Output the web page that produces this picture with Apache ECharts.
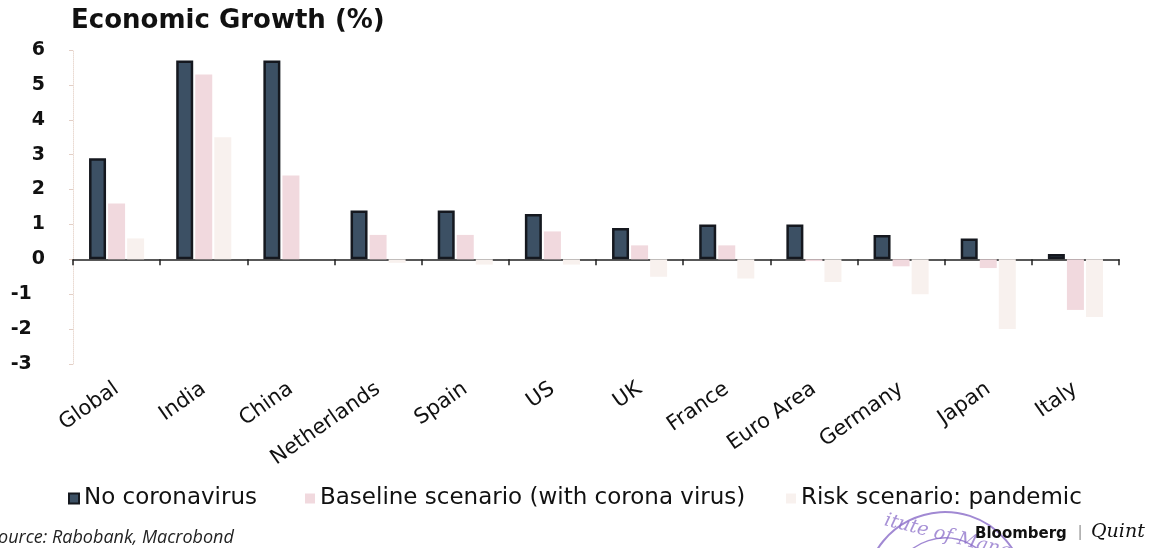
<!DOCTYPE html>
<html>
<head>
<meta charset="utf-8">
<script src="https://cdn.jsdelivr.net/npm/echarts@6/dist/echarts.min.js"></script>
<style>
  html, body { margin: 0; padding: 0; background: #ffffff; }
  #chart { width: 1153px; height: 548px; }
</style>
</head>
<body>
<div id="chart"></div>
<script>
// Economic growth forecasts (%) by economy, three scenarios
const categories = ['Global', 'India', 'China', 'Netherlands', 'Spain', 'US', 'UK', 'France', 'Euro Area', 'Germany', 'Japan', 'Italy'];
const noCorona   = [2.9, 5.7, 5.7, 1.4, 1.4, 1.3, 0.9, 1.0, 1.0, 0.7, 0.6, 0.15];
const baseline   = [1.6, 5.3, 2.4, 0.7, 0.7, 0.8, 0.4, 0.4, -0.05, -0.2, -0.25, -1.45];
const pandemic   = [0.6, 3.5, 0.0, -0.1, -0.15, -0.15, -0.5, -0.55, -0.65, -1.0, -2.0, -1.65];
const seriesNames = ['No coronavirus', 'Baseline scenario (with corona virus)', 'Risk scenario: pandemic'];
const yTicks = { min: -3, max: 6, interval: 1 };

const chart = echarts.init(document.getElementById('chart'));
const wide = '"DejaVu Sans", "Open Sans", sans-serif';

// one legend entry per block so each sits at its own spot
const legendAt = (name, left) => ({
  left: left, top: 482,
  itemWidth: 10, itemHeight: 10, itemGap: 0,
  textStyle: { fontFamily: wide, fontSize: 23, color: '#111' },
  data: [{ name: name, icon: 'rect' }]
});

chart.setOption({
  backgroundColor: '#ffffff',
  animation: false,
  title: {
    text: 'Economic Growth (%)',
    left: 66, top: 3,
    textStyle: { fontFamily: wide, fontSize: 26, fontWeight: 'bold', color: '#111' }
  },
  legend: [
    legendAt(seriesNames[0], 63),
    legendAt(seriesNames[1], 300),
    legendAt(seriesNames[2], 781)
  ],
  grid: { left: 73, right: 34, top: 50, bottom: 184 },
  xAxis: [
    {
      // category labels along the bottom edge of the plot
      type: 'category', data: categories, position: 'bottom',
      axisLine: { show: false, onZero: false }, axisTick: { show: false },
      axisLabel: {
        interval: 0, rotate: 35, margin: 23,
        fontFamily: wide, fontSize: 21, color: '#111'
      }
    },
    {
      // baseline with category separators at zero
      type: 'category', data: categories, position: 'bottom',
      axisLine: { show: true, onZero: true, lineStyle: { color: '#222', width: 1.5 } },
      axisTick: { show: true, length: 6, lineStyle: { color: '#222', width: 1.5 } },
      axisLabel: { show: false }
    }
  ],
  yAxis: {
    type: 'value', min: yTicks.min, max: yTicks.max, interval: yTicks.interval,
    axisLine: { show: true, lineStyle: { color: '#eadbd3', width: 1, type: 'dotted' } },
    axisTick: { show: true, length: 4, lineStyle: { color: '#e3cfc6' } },
    splitLine: { show: false },
    axisLabel: {
      margin: 28, fontFamily: wide, fontSize: 19, fontWeight: 'bold', color: '#111',
      formatter: v => (v < 0 ? v + '  ' : String(v))
    }
  },
  series: [
    {
      name: seriesNames[0], type: 'bar', xAxisIndex: 0, data: noCorona,
      barWidth: 17, barGap: '12%',
      itemStyle: { color: '#3c5064', borderColor: '#15181f', borderWidth: 2.5 }
    },
    {
      name: seriesNames[1], type: 'bar', xAxisIndex: 0, data: baseline,
      barWidth: 17, barGap: '12%',
      itemStyle: { color: '#f1d9de' }
    },
    {
      name: seriesNames[2], type: 'bar', xAxisIndex: 0, data: pandemic,
      barWidth: 17, barGap: '12%',
      itemStyle: { color: '#f8f1ee' }
    }
  ],
  graphic: [
    {
      type: 'text', left: -11, top: 529,
      style: { text: 'Source: Rabobank, Macrobond', font: 'italic 18px "Open Sans", sans-serif', fill: '#222' }
    },
    {
      type: 'arc', shape: { cx: 945, cy: 592, r: 80, startAngle: Math.PI * 1.1, endAngle: Math.PI * 1.95 },
      style: { stroke: '#8a6cc8', lineWidth: 2, fill: null, opacity: 0.8 }
    },
    {
      type: 'arc', shape: { cx: 945, cy: 592, r: 54, startAngle: Math.PI * 1.15, endAngle: Math.PI * 1.9 },
      style: { stroke: '#8a6cc8', lineWidth: 1.5, fill: null, opacity: 0.8 }
    },
    {
      type: 'text', x: 950, y: 527, rotation: -0.25,
      style: { text: 'itute of Mana', font: 'italic 19px "DejaVu Serif", serif', fill: '#8a6cc8', opacity: 0.75, align: 'center' }
    },
    {
      type: 'text', left: 975, top: 527,
      style: { text: 'Bloomberg', font: 'bold 15px "DejaVu Sans", sans-serif', fill: '#111' }
    },
    {
      type: 'text', left: 1078, top: 525,
      style: { text: '|', font: '16px sans-serif', fill: '#999' }
    },
    {
      type: 'text', left: 1091, top: 523,
      style: { text: 'Quint', font: 'italic 19px "DejaVu Serif", "Liberation Serif", serif', fill: '#111' }
    }
  ]
});
</script>
</body>
</html>
